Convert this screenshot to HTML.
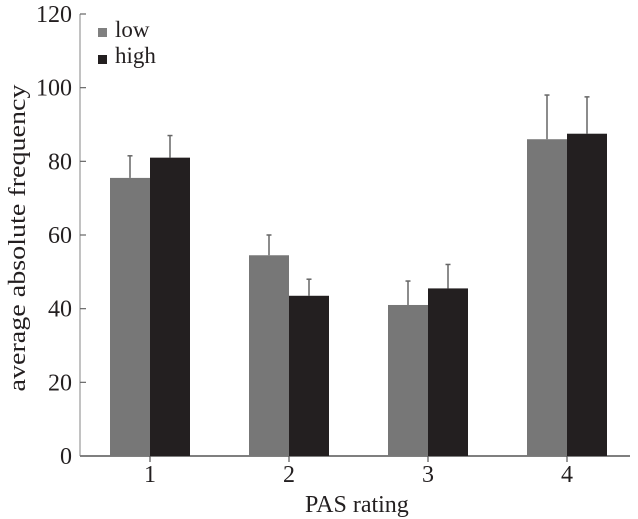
<!DOCTYPE html>
<html><head><meta charset="utf-8"><style>
body{margin:0;background:#fff}
svg{display:block;font-family:"Liberation Serif",serif}
</style></head><body>
<svg id="chart" width="638" height="519">
<g id="axes"></g>
<g id="bars"></g>
<g>
<rect x="98" y="28" width="9" height="9" fill="#808080"/>
<text x="115" y="37" font-size="23" fill="#231f20">low</text>
<rect x="98" y="55" width="9" height="9" fill="#231f20"/>
<text x="115" y="63" font-size="23" fill="#231f20">high</text>
</g>
<text x="305" y="512" font-size="24" fill="#231f20">PAS rating</text>
<text transform="translate(25,238) rotate(-90)" font-size="24" text-anchor="middle" textLength="307" lengthAdjust="spacingAndGlyphs" fill="#231f20">average absolute frequency</text>
</svg>
<script>
const categories=["1","2","3","4"];
const lowValues=[75.5,54.5,41,86];
const highValues=[81,43.5,45.5,87.5];
const lowErr=[6,5.5,6.5,12];
const highErr=[6,4.5,6.5,10];
const yTicks=[0,20,40,60,80,100,120];
const NS="http://www.w3.org/2000/svg";
const y0=456,yTop=14,yMax=120,x0=80,xEnd=630;
const y=v=>y0-(y0-yTop)*v/yMax;
const xc=i=>150+139*i;
const bw=40;
function mk(tag,attrs,parent){const e=document.createElementNS(NS,tag);for(const k in attrs)e.setAttribute(k,attrs[k]);parent.appendChild(e);return e;}
const axes=document.getElementById('axes'),bars=document.getElementById('bars');
let l=mk('line',{x1:x0,y1:y(0),x2:xEnd,y2:y(0),stroke:'#555','stroke-width':1.5},axes);


l=mk('line',{x1:x0,y1:y(0),x2:x0,y2:yTop,stroke:'#999','stroke-width':1.2},axes);


yTicks.forEach(t=>{
 const tk=mk('line',{x1:x0,x2:x0+6,y1:y(t),y2:y(t),stroke:'#666','stroke-width':1.2},axes);
 
 
 const tx=mk('text',{x:x0-8,y:y(t)+8,'font-size':24,'text-anchor':'end',fill:'#231f20'},axes);
 tx.textContent=t;
 
 
});
categories.forEach((c,i)=>{
 const tk=mk('line',{x1:xc(i),x2:xc(i),y1:y(0),y2:y(0)+6,stroke:'#555','stroke-width':1.2},axes);
 
 
 const tx=mk('text',{x:xc(i),y:y(0)+26,'font-size':24,'text-anchor':'middle',fill:'#231f20'},axes);
 tx.textContent=c;
 
 
 [[lowValues,lowErr,'#777',-bw,'low'],[highValues,highErr,'#231f20',0,'high']].forEach(([vals,errs,col,off,nm])=>{
  const v=vals[i],bx=xc(i)+off,cx=bx+bw/2;
  const el=mk('line',{x1:cx,x2:cx,y1:y(v),y2:y(v+errs[i]),stroke:'#666','stroke-width':1.5},bars);
  
  
  const cap=mk('line',{x1:cx-2.5,x2:cx+2.5,y1:y(v+errs[i]),y2:y(v+errs[i]),stroke:'#666','stroke-width':1.5},bars);
  
  
  const r=mk('rect',{x:bx,y:y(v),width:bw,height:y(0)-y(v),fill:col},bars);
  
  
 });
});
</script>
</body></html>
